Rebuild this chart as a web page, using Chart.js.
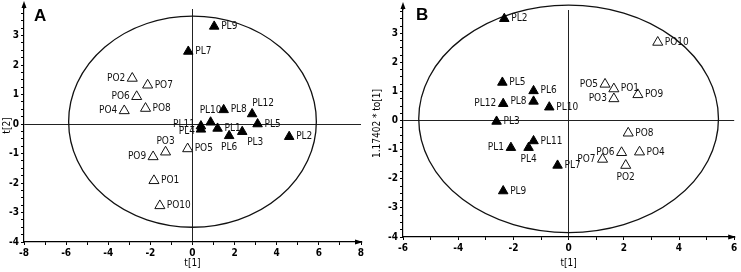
<!DOCTYPE html>
<html>
<head>
<title>Score plots</title>
<script src="https://cdn.jsdelivr.net/npm/chart.js@4.4.1/dist/chart.umd.min.js"></script>
<style>
  body { margin: 0; background: #fff; }
  .panel { position: absolute; top: 0; }
  .letter { position: absolute; font: bold 17px "Liberation Sans", Arial, sans-serif; color: #000; }
</style>
</head>
<body>
<div class="panel" style="left:0"><canvas id="chartA" width="370" height="272"></canvas></div>
<div class="panel" style="left:370px"><canvas id="chartB" width="371" height="272"></canvas></div>
<div class="letter" style="left:34px;top:6px">A</div>
<div class="letter" style="left:416px;top:5px">B</div>

<script>
// ---- Panel A data (t[1] vs t[2]) ----
const aPLNames = ["PL9","PL7","PL8","PL10","PL12","PL5","PL11","PL4","PL1","PL6","PL3","PL2"];
const aPLx = [1.03, -0.2, 1.48, 0.86, 2.83, 3.09, 0.4, 0.4, 1.19, 1.74, 2.36, 4.59];
const aPLy = [3.31, 2.46, 0.48, 0.06, 0.34, 0.0, -0.07, -0.18, -0.15, -0.4, -0.26, -0.43];
const aPONames = ["PO2","PO7","PO6","PO4","PO8","PO3","PO5","PO9","PO1","PO10"];
const aPOx = [-2.86, -2.13, -2.65, -3.24, -2.23, -1.28, -0.23, -1.87, -1.83, -1.55];
const aPOy = [1.55, 1.32, 0.93, 0.45, 0.53, -0.95, -0.84, -1.11, -1.92, -2.77];

// ---- Panel B data (t[1] vs 1.17402 * to[1]) ----
const bPLNames = ["PL2","PL5","PL6","PL12","PL8","PL10","PL3","PL1","PL11","PL4","PL7","PL9"];
const bPLx = [-2.33, -2.4, -1.27, -2.37, -1.27, -0.7, -2.61, -2.09, -1.27, -1.45, -0.4, -2.37];
const bPLy = [3.5, 1.31, 1.02, 0.58, 0.66, 0.46, -0.03, -0.93, -0.7, -0.93, -1.54, -2.42];
const bPONames = ["PO10","PO5","PO1","PO9","PO3","PO8","PO7","PO6","PO4","PO2"];
const bPOx = [3.23, 1.32, 1.64, 2.51, 1.64, 2.16, 1.23, 1.92, 2.57, 2.07];
const bPOy = [2.69, 1.25, 1.09, 0.89, 0.75, -0.43, -1.33, -1.1, -1.08, -1.54];

// where each point label sits relative to its marker: r=right, l=left, a=above, b=below, or [dx, dy, align]
const placeA = {
  PL9:"r", PL7:"r", PL8:"r", PL10:[0,-12,"center"], PL12:[11,-11,"center"], PL5:"r",
  PL11:[-6,-2,"right"], PL4:[-6,2,"right"], PL1:"r", PL6:"b", PL3:[13,11,"center"], PL2:"r",
  PO2:"l", PO7:"r", PO6:"l", PO4:"l", PO8:"r", PO3:"a", PO5:"r", PO9:"l", PO1:"r", PO10:"r"
};
const placeB = {
  PL2:"r", PL5:"r", PL6:"r", PL12:"l", PL8:"l", PL10:"r", PL3:"r", PL1:"l", PL11:"r",
  PL4:"b", PL7:"r", PL9:"r",
  PO10:"r", PO5:"l", PO1:"r", PO9:"r", PO3:"l", PO8:"r", PO7:"l", PO6:"l", PO4:"r", PO2:"b"
};

const FONT = "'Liberation Sans Narrow', 'DejaVu Sans Condensed', Arial, sans-serif";

function pts(xs, ys) {
  return xs.map((x, i) => ({x: x, y: ys[i]}));
}

// confidence ellipse, drawn in data units through the scales
const ellipsePlugin = {
  id: "ellipse",
  beforeDatasetsDraw(chart, args, opts) {
    const {ctx, scales: {x, y}} = chart;
    const cx = x.getPixelForValue(opts.cx), cy = y.getPixelForValue(opts.cy);
    const rx = x.getPixelForValue(opts.cx + opts.rx) - cx;
    const ry = cy - y.getPixelForValue(opts.cy + opts.ry);
    ctx.save();
    ctx.beginPath();
    ctx.ellipse(cx, cy, rx, ry, 0, 0, Math.PI * 2);
    ctx.strokeStyle = "#111";
    ctx.lineWidth = 1.3;
    ctx.stroke();
    ctx.restore();
  }
};

// arrow heads on the axis ends
const arrowPlugin = {
  id: "arrows",
  afterDraw(chart) {
    const {ctx, chartArea: a} = chart;
    ctx.save();
    ctx.fillStyle = "#000";
    ctx.strokeStyle = "#000";
    ctx.lineWidth = 1;
    ctx.beginPath();
    ctx.moveTo(a.left, a.top);
    ctx.lineTo(a.left, a.top - 3);
    ctx.stroke();
    ctx.beginPath();
    ctx.moveTo(a.left, a.top - 8);
    ctx.lineTo(a.left - 2.5, a.top - 1);
    ctx.lineTo(a.left + 2.5, a.top - 1);
    ctx.fill();
    ctx.beginPath();
    ctx.moveTo(a.right + 2, a.bottom);
    ctx.lineTo(a.right - 6, a.bottom - 2.5);
    ctx.lineTo(a.right - 6, a.bottom + 2.5);
    ctx.fill();
    ctx.restore();
  }
};

// sample names next to markers
const namePlugin = {
  id: "names",
  afterDatasetsDraw(chart, args, opts) {
    const ctx = chart.ctx;
    ctx.save();
    ctx.font = "10px " + FONT;
    ctx.fillStyle = "#111";
    ctx.textBaseline = "middle";
    chart.data.datasets.forEach((ds, di) => {
      chart.getDatasetMeta(di).data.forEach((el, i) => {
        const name = ds.names[i];
        let p = opts.place[name] || "r";
        if (p === "r") p = [7, 0, "left"];
        else if (p === "l") p = [-7, 0, "right"];
        else if (p === "a") p = [0, -11, "center"];
        else if (p === "b") p = [0, 12, "center"];
        ctx.textAlign = p[2];
        ctx.fillText(name, el.x + p[0], el.y + p[1]);
      });
    });
    ctx.restore();
  }
};

function makeChart(id, cfg) {
  const axisLine = {display: true, color: "#000", width: 1.2};
  const tickFont = {family: FONT, size: 10, weight: "bold"};
  const grid = {
    color: (c) => (c.tick && c.tick.value === 0 ? "#222" : "rgba(0,0,0,0)"),
    tickColor: "#000",
    tickLength: 3,
    lineWidth: 1
  };
  return new Chart(id, {
    type: "scatter",
    data: {
      datasets: [
        {names: cfg.plNames, data: pts(cfg.plX, cfg.plY), pointStyle: "triangle",
         pointRadius: 5.5, backgroundColor: "#000", borderColor: "#000", borderWidth: 1},
        {names: cfg.poNames, data: pts(cfg.poX, cfg.poY), pointStyle: "triangle",
         pointRadius: 5.8, backgroundColor: "#fff", borderColor: "#111", borderWidth: 1}
      ]
    },
    options: {
      responsive: false,
      animation: false,
      devicePixelRatio: 1,
      layout: {padding: cfg.padding},
      plugins: {
        legend: {display: false},
        tooltip: {enabled: false},
        ellipse: cfg.ellipse,
        names: {place: cfg.place}
      },
      scales: {
        x: {
          type: "linear", min: cfg.xMin, max: cfg.xMax,
          ticks: {stepSize: 1, includeBounds: false, maxRotation: 0, autoSkip: false, color: "#000", font: tickFont, padding: 2,
                  callback: (v) => (v % 2 === 0 ? String(v) : "")},
          grid: grid, border: axisLine,
          title: {display: true, text: "t[1]", color: "#000", font: {family: FONT, size: 10}, padding: {top: 2, bottom: 3}},
          afterFit: (s) => { s.height = cfg.xAxisH; }
        },
        y: {
          type: "linear", min: cfg.yMin, max: cfg.yMax,
          ticks: {stepSize: 0.25, includeBounds: false, autoSkip: false, color: "#000", font: tickFont, padding: 2,
                  callback: (v) => (Number.isInteger(v) ? String(v) : "")},
          grid: grid, border: axisLine,
          title: {display: true, text: cfg.yTitle, color: "#000", font: {family: FONT, size: 10}, padding: {top: 1, bottom: 2}},
          afterFit: (s) => { s.width = cfg.yAxisW; }
        }
      }
    },
    plugins: [ellipsePlugin, namePlugin, arrowPlugin]
  });
}

makeChart("chartA", {
  plNames: aPLNames, plX: aPLx, plY: aPLy,
  poNames: aPONames, poX: aPOx, poY: aPOy,
  place: placeA,
  xMin: -8, xMax: 8, yMin: -4, yMax: 3.9,
  yTitle: "t[2]",
  ellipse: {cx: 0, cy: 0.08, rx: 5.88, ry: 3.58},
  padding: {top: 9, right: 9, left: 0, bottom: 0},
  xAxisH: 30, yAxisW: 24
});

makeChart("chartB", {
  plNames: bPLNames, plX: bPLx, plY: bPLy,
  poNames: bPONames, poX: bPOx, poY: bPOy,
  place: placeB,
  xMin: -6, xMax: 6, yMin: -4, yMax: 3.8,
  yTitle: "1.17402 * to[1]",
  ellipse: {cx: 0, cy: 0.06, rx: 5.43, ry: 3.91},
  padding: {top: 10, right: 2, left: 0, bottom: 0},
  xAxisH: 35, yAxisW: 33
});
</script>
</body>
</html>
